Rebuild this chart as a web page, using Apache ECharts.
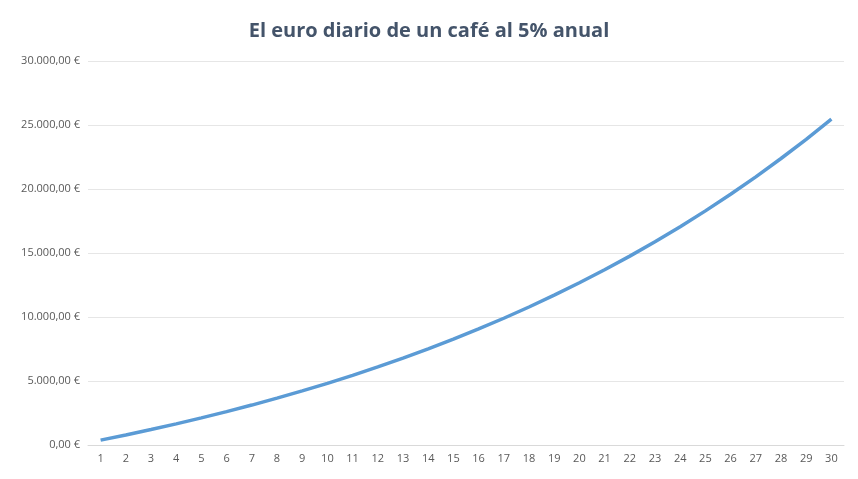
<!DOCTYPE html>
<html><head><meta charset="utf-8">
<script src="https://cdn.jsdelivr.net/npm/echarts@6/dist/echarts.min.js"></script>
<style>html,body{margin:0;padding:0;background:#fff}#c{width:858px;height:479px}</style>
</head><body><div id="c"></div>
<script>
const years = Array.from({length:30},(_,i)=>String(i+1));
const values = [383,786,1208,1652,2118,2607,3120,3660,4226,4820,5445,6100,6788,7511,8270,9067,9903,10782,11704,12673,13689,14757,15878,17055,18291,19589,20952,22382,23885,25463];
const yTicks = {min:0,max:30000,interval:5000};
const fmt = v => {
  const s = Math.round(v).toString().replace(/\B(?=(\d{3})+(?!\d))/g,'.');
  return s + ',00 €';
};
const chart = echarts.init(document.getElementById('c'));
chart.setOption({
  animation:false,
  title:{text:'El euro diario de un café al 5% anual',left:'center',top:16,
    textStyle:{fontFamily:'Open Sans',fontSize:20,fontWeight:'bold',color:'#44546a'}},
  grid:{left:88,right:14,top:61,bottom:34},
  xAxis:{type:'category',data:years,boundaryGap:true,
    axisLine:{lineStyle:{color:'#d9d9d9'}},axisTick:{show:false},
    axisLabel:{color:'#595959',fontSize:11,fontFamily:'Open Sans',interval:0}},
  yAxis:{type:'value',min:yTicks.min,max:yTicks.max,interval:yTicks.interval,
    axisLine:{show:false},axisTick:{show:false},
    splitLine:{lineStyle:{color:'#e6e6e6'}},
    axisLabel:{color:'#595959',fontSize:11,fontFamily:'Open Sans',formatter:fmt}},
  series:[{type:'line',data:values,showSymbol:false,smooth:false,
    lineStyle:{color:'#5b9bd5',width:3.5},itemStyle:{color:'#5b9bd5'}}]
});
</script></body></html>
